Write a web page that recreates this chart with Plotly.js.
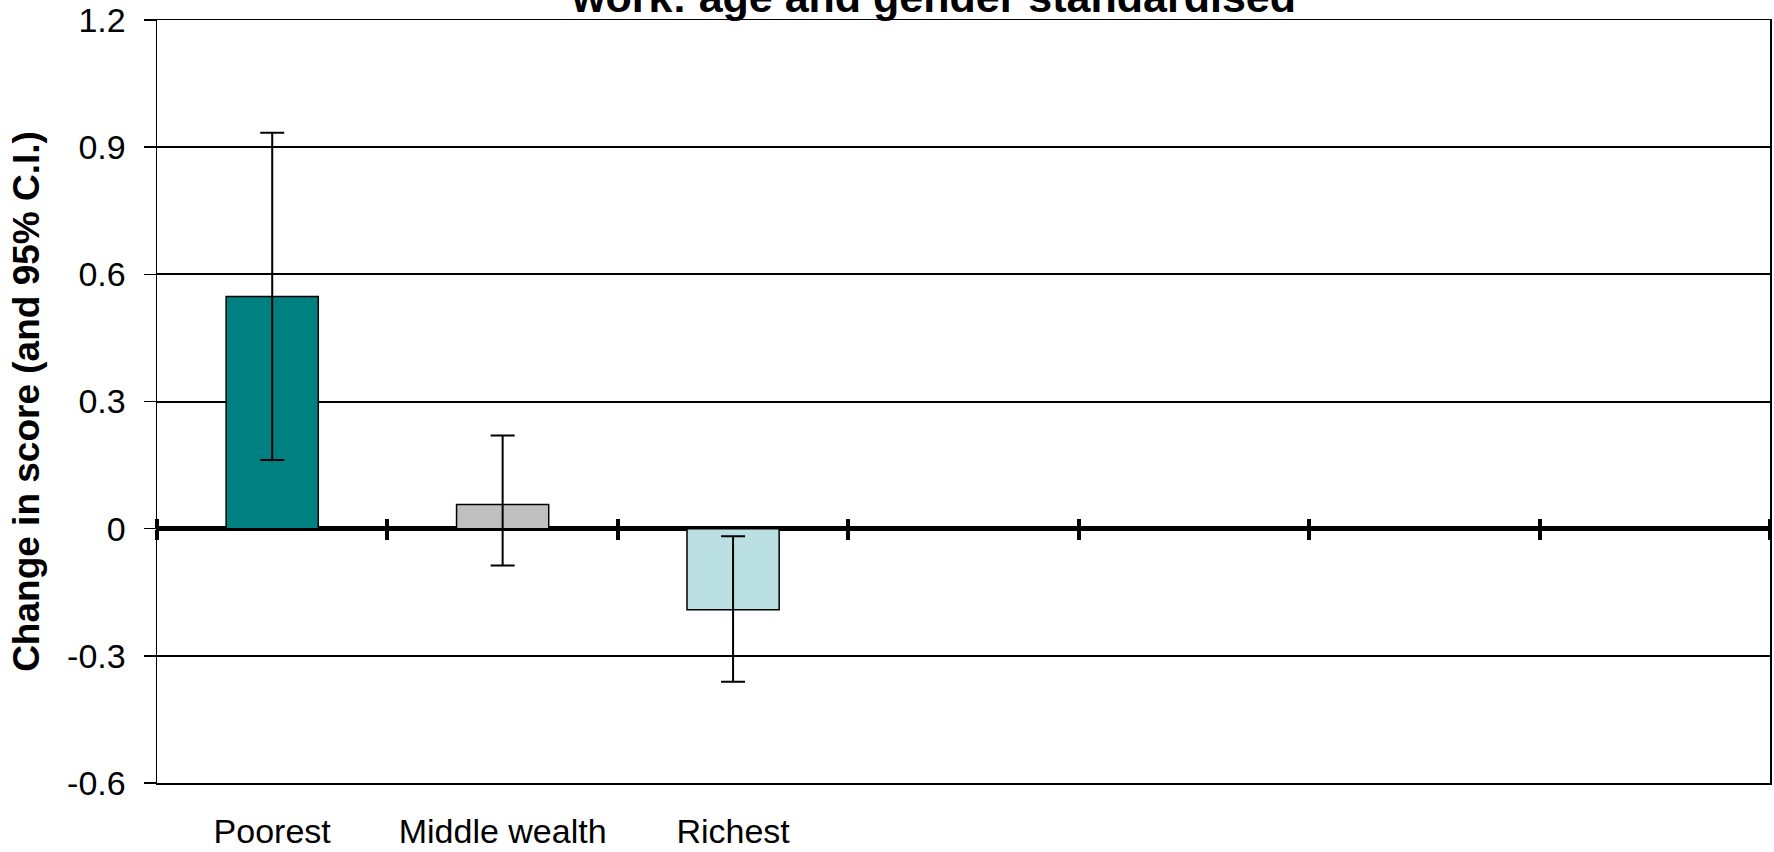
<!DOCTYPE html>
<html>
<head>
<meta charset="utf-8">
<script src="https://cdn.plot.ly/plotly-3.0.1.min.js"></script>
<style>html,body{margin:0;padding:0;background:#fff;}#chart{width:1774px;height:852px;}</style>
</head>
<body>
<div id="chart"></div>
<script>
// Data
const categories = ["Poorest", "Middle wealth", "Richest"];
const values = [0.548, 0.057, -0.191];
const ciUpper = [0.934, 0.22, -0.018];
const ciLower = [0.162, -0.087, -0.361];
const barColors = ["#008080", "#C0C0C0", "#BBE0E3"];
const yTickVals = [-0.6, -0.3, 0, 0.3, 0.6, 0.9, 1.2];
const yTickText = ["-0.6", "-0.3", "0", "0.3", "0.6", "0.9", "1.2"];
const boundaryTicks = [-0.5, 0.5, 1.5, 2.5, 3.5, 4.5, 5.5, 6.5];
const titleText = "work: age and gender standardised";
const yTitleText = "Change in score (and 95% C.I.)";

const FONT = "Liberation Sans, Arial, sans-serif";

const errPlus = values.map((v, i) => ciUpper[i] - v);
const errMinus = values.map((v, i) => v - ciLower[i]);

const traces = [
  {
    type: "bar",
    x: categories,
    y: values,
    width: 0.4,
    marker: { color: barColors, line: { color: "#000", width: 1.5 } },
    error_y: {
      type: "data", symmetric: false,
      array: errPlus, arrayminus: errMinus,
      color: "#000", thickness: 2, width: 12, visible: true
    },
    hoverinfo: "x+y",
    showlegend: false
  },
  { type: "scatter", mode: "markers", x: [0], y: [0], xaxis: "x2", yaxis: "y",
    marker: { opacity: 0 }, hoverinfo: "skip", showlegend: false },
  { type: "scatter", mode: "markers", x: [0], y: [0], xaxis: "x3", yaxis: "y",
    marker: { opacity: 0 }, hoverinfo: "skip", showlegend: false }
];

const zeroPos = (0 - yTickVals[0]) / (yTickVals[yTickVals.length - 1] - yTickVals[0]);

const layout = {
  width: 1774, height: 852,
  margin: { l: 157, r: 4, t: 20, b: 69, pad: 0 },
  paper_bgcolor: "#fff", plot_bgcolor: "#fff",
  font: { family: FONT, color: "#000", size: 34 },
  showlegend: false,
  xaxis: {
    type: "category",
    range: [-0.5, 6.5],
    showgrid: false, zeroline: false,
    showline: true, linecolor: "#000", linewidth: 1.5, mirror: true,
    ticks: "outside", ticklen: 18, tickcolor: "rgba(0,0,0,0)",
    tickfont: { family: FONT, size: 34, color: "#000" },
    fixedrange: true
  },
  xaxis2: {
    type: "linear", overlaying: "x", anchor: "free", position: zeroPos,
    range: [-0.5, 6.5], tickvals: boundaryTicks, showticklabels: false,
    ticks: "outside", ticklen: 10, tickwidth: 4, tickcolor: "#000",
    showgrid: false, zeroline: false, showline: false
  },
  xaxis3: {
    type: "linear", overlaying: "x", anchor: "free", position: zeroPos, side: "top",
    range: [-0.5, 6.5], tickvals: boundaryTicks, showticklabels: false,
    ticks: "outside", ticklen: 10, tickwidth: 4, tickcolor: "#000",
    showgrid: false, zeroline: false, showline: false
  },
  yaxis: {
    range: [yTickVals[0], yTickVals[yTickVals.length - 1]],
    tickvals: yTickVals, ticktext: yTickText,
    showgrid: true, gridcolor: "#000", gridwidth: 2,
    zeroline: true, zerolinecolor: "#000", zerolinewidth: 4.5,
    showline: true, linecolor: "#000", linewidth: 1.5, mirror: true,
    ticks: "outside", ticklen: 12, tickwidth: 1.5, tickcolor: "#000",
    ticklabelstandoff: 11,
    tickfont: { family: FONT, size: 34, color: "#000" },
    title: { text: yTitleText, font: { family: FONT, size: 37, color: "#000", weight: "bold" }, standoff: 16 },
    fixedrange: true
  },
  annotations: [
    {
      text: "<b>" + titleText + "</b>",
      xref: "paper", yref: "paper",
      x: (933 - 157) / (1774 - 157 - 4), y: 1 + (20 + 3.5) / 763,
      xanchor: "center", yanchor: "middle",
      showarrow: false,
      font: { family: FONT, size: 43, color: "#000" }
    }
  ]
};

Plotly.newPlot("chart", traces, layout, { displayModeBar: false, staticPlot: true });
</script>
</body>
</html>
